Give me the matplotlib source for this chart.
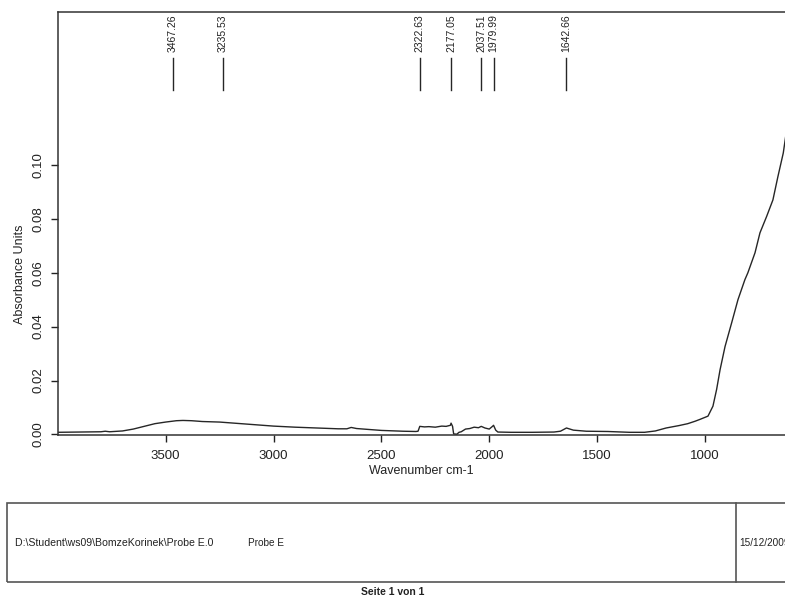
import matplotlib
matplotlib.use("Agg")
import matplotlib.pyplot as plt
from matplotlib.patches import Rectangle
from matplotlib.lines import Line2D

plt.rcParams['font.family'] = ['Liberation Sans', 'DejaVu Sans']

# spectrum (wavenumber cm-1, absorbance)
wavenumber = [4000, 3900, 3800, 3780, 3760, 3700, 3650, 3600, 3550, 3500,
              3450, 3420, 3380, 3330, 3250, 3150, 3050, 3000, 2900, 2800,
              2700, 2660, 2640, 2615, 2550, 2500, 2400, 2340, 2330, 2322,
              2300, 2280, 2250, 2220, 2200, 2180, 2177, 2170, 2165, 2150,
              2140, 2130, 2110, 2090, 2070, 2050, 2037, 2020, 2000, 1985,
              1980, 1970, 1960, 1900, 1800, 1700, 1670, 1642, 1610, 1550,
              1450, 1350, 1280, 1230, 1180, 1120, 1080, 1046, 1023, 986,
              963, 946, 930, 907, 876, 847, 815, 801, 768, 745,
              714, 685, 662, 637, 625]
absorbance = [0.0008, 0.0009, 0.0010, 0.0012, 0.0010, 0.0013, 0.0020, 0.0030, 0.0040, 0.0046,
              0.0051, 0.0052, 0.0051, 0.0048, 0.0046, 0.0040, 0.0034, 0.0031, 0.0027, 0.0024,
              0.0021, 0.0021, 0.0026, 0.0022, 0.0018, 0.0015, 0.0012, 0.0011, 0.0012, 0.0030,
              0.0028, 0.0029, 0.0027, 0.0031, 0.0030, 0.0034, 0.0042, 0.0030, 0.0002, 0.0001,
              0.0008, 0.0010, 0.0020, 0.0022, 0.0027, 0.0025, 0.0030, 0.0024, 0.0020, 0.0030,
              0.0034, 0.0016, 0.0009, 0.0008, 0.0008, 0.0009, 0.0012, 0.0024, 0.0016, 0.0012,
              0.0011, 0.0008, 0.0008, 0.0013, 0.0024, 0.0033, 0.0040, 0.0049, 0.0056, 0.0068,
              0.0105, 0.0167, 0.0240, 0.0326, 0.0415, 0.0500, 0.0574, 0.0600, 0.0674, 0.0748,
              0.0809, 0.0870, 0.0956, 0.1044, 0.1110]

peaks = [3467.26, 3235.53, 2322.63, 2177.05, 2037.51, 1979.99, 1642.66]

x_ticks = [3500, 3000, 2500, 2000, 1500, 1000]
y_ticks = [0.00, 0.02, 0.04, 0.06, 0.08, 0.10]

file_path = r"D:\Student\ws09\BomzeKorinek\Probe E.0"
sample_name = "Probe E"
date_text = "15/12/2009"
page_text = "Seite 1 von 1"

fig = plt.figure(figsize=(7.85, 5.98), dpi=100)
ax = fig.add_axes([58 / 785, 1 - 435 / 598, 1 - 58 / 785, (435 - 12) / 598])

ax.plot(wavenumber, absorbance, color='#262626', lw=1.0)

# peak picking marks
for p in peaks:
    ax.plot([p, p], [0.1278, 0.1396], color='#262626', lw=1.0)
    ax.text(p, 0.1419, f"{p:.2f}", rotation=90, ha='center', va='bottom', fontsize=7.5, color='#222222')

ax.set_xlim(3999, 629)
ax.set_ylim(-0.0002, 0.1567)
ax.set_xticks(x_ticks)
ax.set_yticks(y_ticks)
ax.set_yticklabels([f"{v:.2f}" for v in y_ticks], rotation=90, va='center')
ax.tick_params(direction='out', length=5, width=1, labelsize=9.5, colors='#222222')
ax.tick_params(axis='y', pad=5)
ax.tick_params(axis='x', pad=6)
for s in ['left', 'top', 'bottom']:
    ax.spines[s].set_color('#333333')
    ax.spines[s].set_linewidth(1.1)
ax.spines['right'].set_visible(False)

ax.set_xlabel("Wavenumber cm-1", fontsize=9, color='#222222')
ax.xaxis.set_label_coords(0.4993, -0.071)
ax.set_ylabel("Absorbance Units", fontsize=9, color='#222222')
ax.yaxis.set_label_coords(-0.044, 0.38)

# footer box
fig.add_artist(Rectangle((7 / 785, 1 - 582 / 598), 1.05, (582 - 503) / 598,
                         transform=fig.transFigure, fill=False, edgecolor='#555555', lw=1.2))
fig.add_artist(Line2D([736 / 785, 736 / 785], [1 - 582 / 598, 1 - 503 / 598],
                      transform=fig.transFigure, color='#555555', lw=1.2))
fig.text(15 / 785, 1 - 543 / 598, file_path, fontsize=7.6, va='center', color='#222222')
fig.text(248 / 785, 1 - 543 / 598, sample_name, fontsize=7.2, va='center', color='#222222')
fig.text(739 / 785, 1 - 543 / 598, date_text, fontsize=7.2, va='center', color='#222222')
fig.text(393 / 785, 1 - 592 / 598, page_text, fontsize=7.5, fontweight='bold',
         ha='center', va='center', color='#222222')

fig.savefig("out.png", dpi=100)
